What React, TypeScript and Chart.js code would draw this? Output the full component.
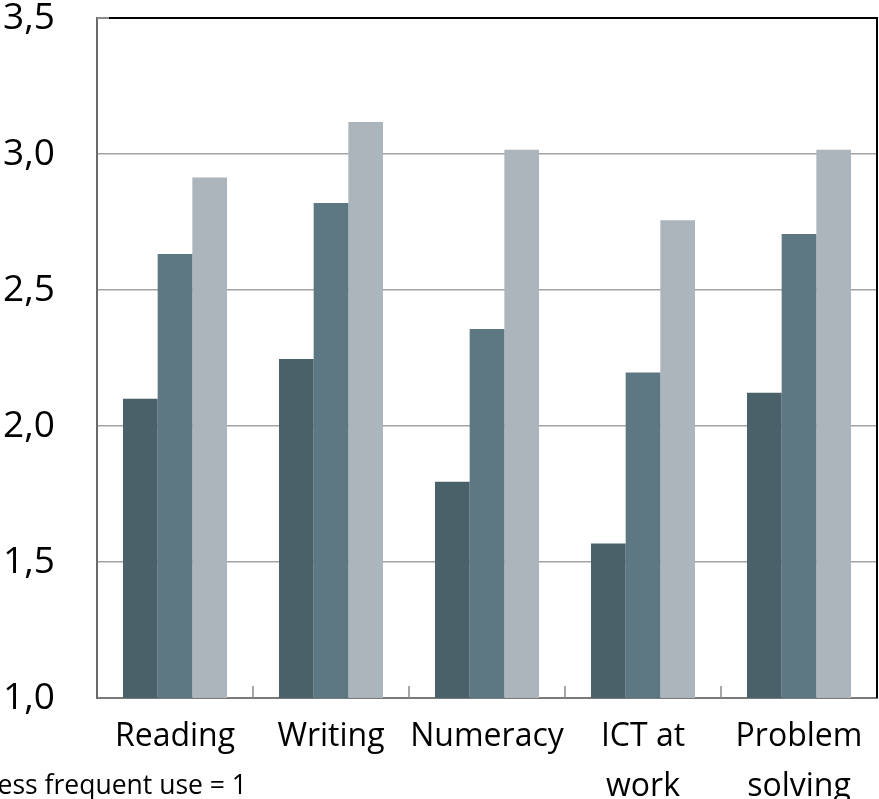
import React, { useEffect, useRef } from "react";
import { Chart, registerables } from "chart.js";

Chart.register(...registerables);

const categories: (string | string[])[] = ["Reading", "Writing", "Numeracy", ["ICT at", "work"], ["Problem", "solving"]];
const seriesDark = [2.10, 2.246, 1.795, 1.568, 2.122];
const seriesMid = [2.632, 2.82, 2.357, 2.197, 2.706];
const seriesLight = [2.914, 3.118, 3.016, 2.756, 3.016];
const yTicks = [1.0, 1.5, 2.0, 2.5, 3.0, 3.5];
const noteText = "Less frequent use = 1";

const framePlugin = {
  id: "frame",
  afterDatasetsDraw(chart: any) {
    const { ctx, chartArea, scales } = chart;
    const x = scales.x;
    ctx.save();
    ctx.strokeStyle = "#8a8a8a";
    ctx.lineWidth = 1.5;
    for (let i = 0; i < categories.length - 1; i++) {
      const px = (x.getPixelForValue(i) + x.getPixelForValue(i + 1)) / 2;
      ctx.beginPath();
      ctx.moveTo(px, chartArea.bottom);
      ctx.lineTo(px, chartArea.bottom - 12);
      ctx.stroke();
    }
    ctx.strokeStyle = "#000";
    ctx.lineWidth = 2;
    ctx.beginPath();
    ctx.moveTo(chartArea.left + 12, chartArea.top);
    ctx.lineTo(chartArea.right, chartArea.top);
    ctx.lineTo(chartArea.right, chartArea.bottom);
    ctx.stroke();
    ctx.strokeStyle = "#8a8a8a";
    ctx.beginPath();
    ctx.moveTo(chartArea.left, chartArea.top);
    ctx.lineTo(chartArea.left + 12, chartArea.top);
    ctx.stroke();
    ctx.fillStyle = "#000";
    ctx.font = "26.5px 'Open Sans'";
    ctx.textAlign = "right";
    ctx.textBaseline = "alphabetic";
    ctx.fillText(noteText, 247, 794);
    ctx.restore();
  },
};

export default function App() {
  const ref = useRef<HTMLCanvasElement>(null);
  useEffect(() => {
    document.body.style.margin = "0";
    const chart = new Chart(ref.current!, {
      type: "bar",
      data: {
        labels: categories,
        datasets: [
          { data: seriesDark, backgroundColor: "#4A616A", borderWidth: 0 },
          { data: seriesMid, backgroundColor: "#5D7883", borderWidth: 0 },
          { data: seriesLight, backgroundColor: "#ADB5BC", borderWidth: 0 },
        ],
      },
      options: {
        responsive: true,
        maintainAspectRatio: false,
        animation: false,
        layout: { padding: { top: 18, right: 2, left: 0, bottom: 0 } },
        plugins: { legend: { display: false }, tooltip: { enabled: false } },
        datasets: { bar: { categoryPercentage: 0.667, barPercentage: 1.0 } },
        scales: {
          x: {
            offset: true,
            grid: { display: true, drawOnChartArea: false, drawTicks: false, offset: true },
            border: { display: true, color: "#7a7a7a", width: 2 },
            ticks: {
              color: "#000",
              padding: 14,
              maxRotation: 0,
              autoSkip: false,
              font: { family: "'Open Sans'", size: 32, lineHeight: 1.55 },
            },
            afterFit(scale: any) {
              scale.height = 101;
            },
          },
          y: {
            min: 1,
            max: 3.5,
            afterBuildTicks(scale: any) {
              scale.ticks = yTicks.map((v) => ({ value: v }));
            },
            grid: { color: "#a3a3a3", lineWidth: 1.5, drawTicks: true, tickLength: 42, tickColor: "rgba(0,0,0,0)" },
            border: { display: true, color: "#6a6a6a", width: 2 },
            ticks: {
              color: "#000",
              padding: 0,
              font: { family: "'Open Sans'", size: 37, lineHeight: 0.97 },
              callback: (v: any) => Number(v).toFixed(1).replace(".", ","),
            },
            afterFit(scale: any) {
              scale.width = 97;
            },
          },
        },
      },
      plugins: [framePlugin],
    });
    return () => chart.destroy();
  }, []);
  return (
    <div style={{ width: 879, height: 799, position: "relative", overflow: "hidden" }}>
      <canvas ref={ref} />
    </div>
  );
}
